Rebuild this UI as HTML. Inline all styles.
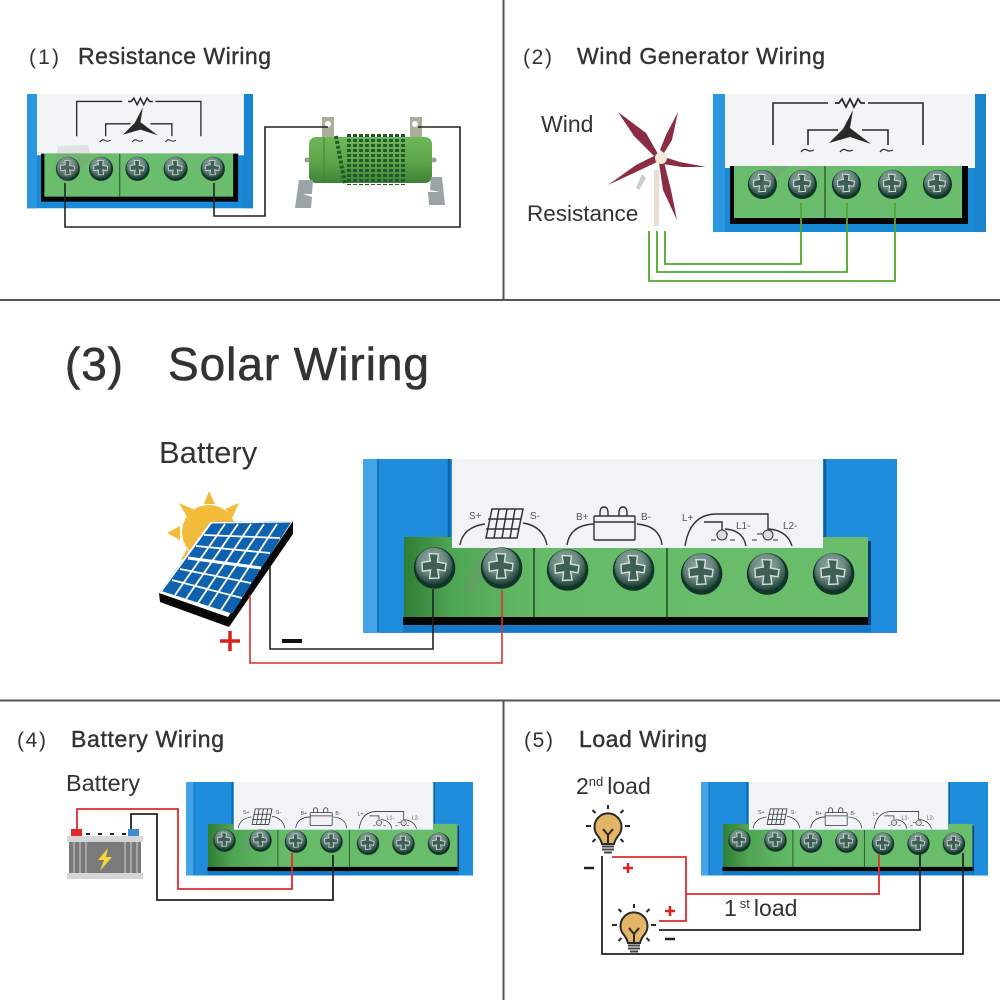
<!DOCTYPE html>
<html><head><meta charset="utf-8"><title>Wiring</title>
<style>html,body{margin:0;padding:0;background:#fff}svg{display:block}
text{font-family:"Liberation Sans",sans-serif;fill:#333}</style></head>
<body>
<svg width="1000" height="1000" viewBox="0 0 1000 1000" xmlns="http://www.w3.org/2000/svg">
<defs>
<radialGradient id="sc" cx="45%" cy="35%" r="65%"><stop offset="0" stop-color="#93aaa3"/><stop offset=".55" stop-color="#6d8a82"/><stop offset=".85" stop-color="#37594f"/><stop offset="1" stop-color="#1d4237"/></radialGradient>
<linearGradient id="gr3" x1="0" x2="1" y1="0" y2="0"><stop offset="0" stop-color="#2f7d35"/><stop offset=".1" stop-color="#4ea552"/><stop offset=".3" stop-color="#66bb68"/><stop offset="1" stop-color="#69bd6b"/></linearGradient>
<linearGradient id="res" x1="0" x2="0" y1="0" y2="1"><stop offset="0" stop-color="#6fb85a"/><stop offset=".55" stop-color="#5aa548"/><stop offset="1" stop-color="#3f8238"/></linearGradient>
<g id="screw"><circle r="1.04" cx=".03" cy=".1" fill="#12352a"/><circle r=".92" fill="url(#sc)"/><path d="M-.6-.18L-.18-.25-.25-.62.22-.6.17-.2.6-.12.55.24.18.18.25.6-.22.62-.17.2-.58.26Z" fill="#3f5f56" stroke="#d4dfda" stroke-width=".07"/></g>
<g id="wc">
<rect x="713" y="94" width="273" height="138" fill="#1b8ad6"/>
<rect x="713" y="94" width="12" height="138" fill="#2b97e0"/>
<rect x="974" y="94" width="12" height="138" fill="#1b84cf"/>
<rect x="725" y="94" width="250" height="74" fill="#f3f4f6"/>
<rect x="730" y="166" width="238" height="58" fill="#050505"/>
<rect x="734" y="166" width="228" height="52" fill="#6abd6c"/>
<path d="M825 166V218" stroke="#27552e" stroke-width="1.3"/>
<use href="#screw" transform="translate(762 183) scale(14)"/>
<use href="#screw" transform="translate(802 183) scale(14)"/>
<use href="#screw" transform="translate(846 183) scale(14)"/>
<use href="#screw" transform="translate(892 183) scale(14)"/>
<use href="#screw" transform="translate(937 183) scale(14)"/>
<g fill="none" stroke="#2a2a2a" stroke-width="1.6">
<path d="M773 145V103H828M868 103H923V145M808 145V130H838M862 130H888V145"/>
<path d="M835 103l4 0 3-4 4 8 4-8 4 8 4-8 3 4h4" stroke-width="1.8"/>
<path d="M801 152q3-4 6-2t7 0M840 152q3-4 6-2t7 0M880 152q3-4 6-2t7 0" stroke-width="1.2"/>
</g>
<path d="M853 110L850 128 871 144 850 137 829 143 843 129Z" fill="#2a2a2a"/>
</g>
<g id="sc3">
<rect x="363" y="459" width="534" height="174" fill="#1f8ddb"/>
<rect x="363" y="459" width="16" height="174" fill="#43a5e8"/>
<path d="M378 459V632" stroke="#0d5fa6" stroke-width="1.5"/>
<path d="M449 459V540M825 459V540" stroke="#0d5fa6" stroke-width="2.500"/>
<rect x="452" y="459" width="371" height="89" fill="#f1f3f6"/>
<path d="M404 537H452V548H823V537H868V617H404Z" fill="url(#gr3)"/>
<rect x="403" y="617" width="468" height="8" fill="#050505"/>
<rect x="868" y="541" width="3" height="84" fill="#0a3f73"/>
<rect x="403" y="625" width="468" height="7" fill="#1479c6"/>
<path d="M534 548V617M667 548V617" stroke="#24502c" stroke-width="1.6"/>
<path d="M482 548L462 590 470 595 495 570 491 548Z" fill="#888" opacity=".2"/>
<use href="#screw" transform="translate(434 566) scale(20)"/>
<use href="#screw" transform="translate(501 566) scale(20)"/>
<use href="#screw" transform="translate(567 568) scale(20)"/>
<use href="#screw" transform="translate(633 568) scale(20)"/>
<use href="#screw" transform="translate(701 572) scale(20)"/>
<use href="#screw" transform="translate(767 572) scale(20)"/>
<use href="#screw" transform="translate(833 572) scale(20)"/>
<g fill="none" stroke="#333" stroke-width="1.4">
<path d="M460 545Q463 527 485 524M523 523Q543 526 547 545M567 545Q570 525 594 524M637 524Q660 526 662 545M685 546Q690 515 715 514H768V530M704 522H722V530M725 529Q743 530 746 546M768 529Q787 530 792 546"/>
<path d="M492 509H523L517 538H486ZM488 519H521M486 529H519M499 509L494 538M507 509L502 538M515 509L510 538" stroke-width="1.5"/>
<rect x="594" y="516" width="41" height="24" rx="1"/>
<path d="M594 522H635M600 516v-3q0-6 4-6t4 6v3M619 516v-3q0-6 4-6t4 6v3"/>
<path d="M716 534h12M711 540h5M730 540h5M757 534h12M752 540h5M773 540h5" stroke-width="1"/>
</g>
<circle cx="722" cy="535" r="5" fill="#ddd" stroke="#333"/>
<circle cx="768" cy="535" r="5" fill="#ddd" stroke="#333"/>
<g font-size="10"><text x="469" y="519" style="fill:#555">S+</text><text x="530" y="519" style="fill:#555">S-</text><text x="576" y="520" style="fill:#555">B+</text><text x="641" y="520" style="fill:#555">B-</text><text x="682" y="521" style="fill:#555">L+</text><text x="736" y="529" style="fill:#555">L1-</text><text x="783" y="529" style="fill:#555">L2-</text></g>
</g>
<g id="bulb"><path d="M-6 10Q-7 6-10 2A13.500 13.500 0 1 1 10 2Q7 6 6 10Z" fill="#e3b566" stroke="#2a2a2a" stroke-width="2"/><path d="M0 9V1L-5-5M0 1L5-5" fill="none" stroke="#2a2a2a" stroke-width="2"/><path d="M-6 12.500H6M-6 15.500H6M-4 18.500H4" stroke="#444" stroke-width="2"/>
<path d="M0-29V-25M-15.500-24L-12.500-21M15.500-24L12.500-21M-22-8H-17M22-8H17M-15.500 8L-12.500 5M15.500 8L12.500 5" stroke="#2a2a2a" stroke-width="2"/></g>
</defs>

<rect width="1000" height="1000" fill="#fff"/>
<path d="M0 300H1000M0 700.500H1000" stroke="#555" stroke-width="2"/>
<path d="M503.500 0V300M503.500 700V1000" stroke="#555" stroke-width="2"/>

<g font-size="23">
<text x="29" y="64" font-size="21" textLength="30">(1)</text>
<text x="78" y="64" textLength="193" stroke="#333" stroke-width=".4">Resistance Wiring</text>
<text x="523" y="64" font-size="21" textLength="29">(2)</text>
<text x="577" y="64" textLength="248" stroke="#333" stroke-width=".4">Wind Generator Wiring</text>
<text x="17" y="747" font-size="21" textLength="29">(4)</text>
<text x="71" y="747" textLength="153" stroke="#333" stroke-width=".4">Battery Wiring</text>
<text x="524" y="747" font-size="21" textLength="29">(5)</text>
<text x="579" y="747" textLength="128" stroke="#333" stroke-width=".4">Load Wiring</text>
</g>
<text x="65" y="380" font-size="46" textLength="58" stroke="#333" stroke-width=".6">(3)</text>
<text x="168" y="380" font-size="46" textLength="261" stroke="#333" stroke-width=".6">Solar Wiring</text>
<text x="159" y="463" font-size="31">Battery</text>
<text x="541" y="132" font-size="23">Wind</text>
<text x="527" y="221" font-size="22.500">Resistance</text>
<text x="66" y="791" font-size="23.400">Battery</text>
<text x="576" y="794" font-size="23">2<tspan font-size="13" dy="-8">nd</tspan><tspan dy="8" dx="4">load</tspan></text>
<text x="724" y="916" font-size="23">1<tspan font-size="13" dy="-8" dx="3">st</tspan><tspan dy="8" dx="4">load</tspan></text>

<!-- Panel 1 -->
<use href="#wc" transform="translate(27 94) scale(.828) translate(-713 -94)"/>
<path d="M58 146L88 145 92 160 78 172 62 186 54 165Z" fill="#888" opacity=".18"/>
<g>
<path d="M322 117h12v22h-12ZM410 117h12v22h-12Z" fill="#aab09a"/>
<circle cx="328" cy="124" r="3" fill="#fff"/><circle cx="415" cy="124" r="3" fill="#fff"/>
<rect x="309" y="137" width="123" height="46" rx="7" fill="url(#res)"/>
<path d="M324 137V183" stroke="#3f8238" stroke-width="1"/>
<g stroke="#1f5a28" stroke-width="4" stroke-dasharray="3 2" fill="none"><path d="M336 136L345 184M349 134V185M355 134V185M361 134V185M367 134V185M373 134V185M379 134V185M385 134V185M391 134V185M397 134V185M403 134V185"/></g>
<circle cx="307" cy="160" r="2.500" fill="#999"/><circle cx="434" cy="160" r="2.500" fill="#999"/>
<path d="M299 180H313L312 194H303L312 197 311 208H295Z" fill="#9aa3a6"/>
<path d="M431 177H442L445 205H429L428 192H440L430 190Z" fill="#9aa3a6"/>
</g>
<path d="M65 183V227H460V127H418" fill="none" stroke="#222" stroke-width="1.600"/>
<path d="M214 183V216H265V127H328" fill="none" stroke="#222" stroke-width="1.600"/>

<!-- Panel 2 -->
<use href="#wc"/>
<path d="M772 166L755 195 790 166Z" fill="#888" opacity=".25"/>
<rect x="654" y="170" width="5" height="56" fill="#e8dfd0"/>
<path d="M642 174L636 188 639 190 646 178Z" fill="#ccc"/>
<g fill="#8c2c42">
<path d="M618 112L646 133 658 154 654 156 634 136Z"/>
<path d="M678 112L672 140 664 153 660 150 666 135Z"/>
<path d="M706 167L680 162 664 157 663 164 682 167Z"/>
<path d="M608 185L636 165 656 155 657 162 636 172Z"/>
<path d="M677 220L671 190 664 162 659 163 663 190Z"/>
</g>
<circle cx="661" cy="158" r="6" fill="#f0e9d8"/>
<path d="M665 231V264H801V203M657 231V272H847V203M649 231V281H895V203" fill="none" stroke="#4fa82a" stroke-width="1.800"/>

<!-- Panel 3 -->
<use href="#sc3"/>
<g fill="#f2bc3a">
<circle cx="209" cy="532" r="27"/>
<path d="M209 491L204 504H215Z"/><path d="M179 503L187 517 195 510Z"/><path d="M239 503L225 509 232 518Z"/><path d="M167 533L180 526V540Z"/><path d="M181 560L187 549 192 556Z"/>
</g>
<path d="M210 522L293 521 293 534 229 627 160 602 159 593Z" fill="#070707"/>
<path d="M210 522L293 521 228 617 159 593Z" fill="#fff"/>
<path d="M212 524L290 523 232 613 163 591Z" fill="#0f62ae" stroke="#0f62ae"/>
<g stroke="#fff" stroke-width="1.800" fill="none">
<path d="M225 524L175 595M238 524L186 599M251 524L198 603M264 524L209 606M277 524L221 610"/>
<path d="M204 535L280 538M196 546L270 553M180 569L251 583M172 580L242 598"/>
<path d="M188 558L261 568" stroke-width="3"/>
</g>
<path d="M270 565V649H433V589" fill="none" stroke="#222" stroke-width="1.600"/>
<path d="M250 595V663H502V590" fill="none" stroke="#d8322f" stroke-width="1.600"/>
<path d="M282 641H302" stroke="#111" stroke-width="4"/>
<path d="M220 641H240M230 631V651" stroke="#d8201c" stroke-width="3.500"/>

<!-- Panel 4 -->
<use href="#sc3" transform="translate(186 782) scale(.5375) translate(-363 -459)"/>
<g>
<rect x="67" y="836" width="76" height="6" fill="#d4d6d8"/>
<rect x="69" y="842" width="72" height="31" fill="#7a7a7a"/>
<path d="M74 842V873M80 842V873M86 842V873M125 842V873M131 842V873M137 842V873" stroke="#a5a5a5" stroke-width="2"/>
<rect x="67" y="873" width="76" height="6" fill="#d4d6d8"/>
<rect x="71" y="829" width="11" height="7" fill="#e02a2a"/>
<rect x="128" y="829" width="11" height="7" fill="#3a8fd0"/>
<path d="M86 834H126" stroke="#222" stroke-width="2" stroke-dasharray="4 8"/>
<path d="M108 848L98 860H104L100 871 112 857H106Z" fill="#f4d63a"/>
</g>
<path d="M77 829V809H178V889H292V853" fill="none" stroke="#e22b2b" stroke-width="1.800"/>
<path d="M131 829V814H157V900H333V855" fill="none" stroke="#222" stroke-width="1.800"/>

<!-- Panel 5 -->
<use href="#sc3" transform="translate(701 782) scale(.5375) translate(-363 -459)"/>
<use href="#bulb" transform="translate(608 834)"/>
<use href="#bulb" transform="translate(634 933)"/>
<path d="M612 857H686V921H659M686 894H879V855" fill="none" stroke="#e22b2b" stroke-width="1.800"/>
<path d="M659 930H920V853M602 856V954H963V853" fill="none" stroke="#222" stroke-width="1.800"/>
<path d="M623 868H633M628 863V873M665 911H675M670 906V916" stroke="#d8201c" stroke-width="2.500"/>
<path d="M584 868H594M665 939H675" stroke="#222" stroke-width="2.500"/>
</svg>
</body></html>
